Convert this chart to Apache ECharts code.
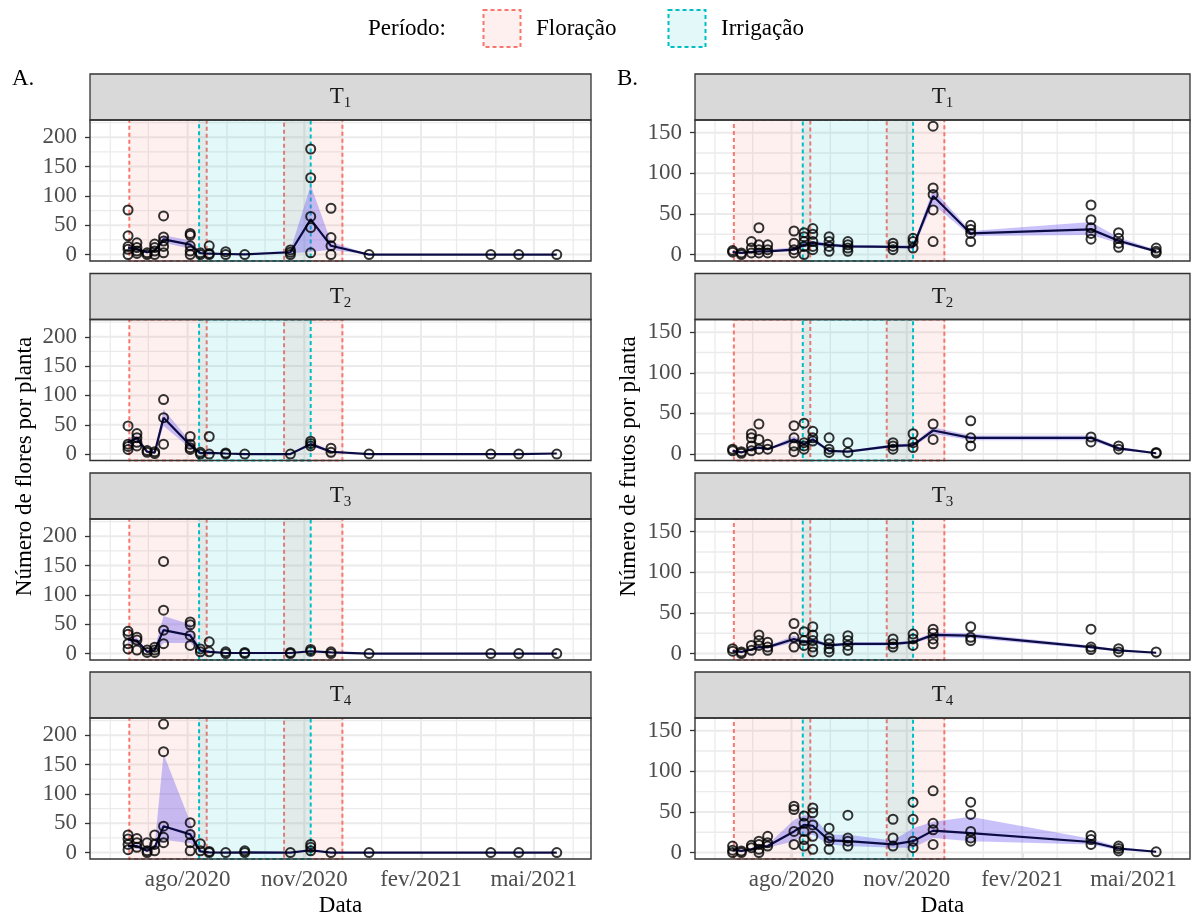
<!DOCTYPE html>
<html><head><meta charset="utf-8">
<script src="https://cdn.jsdelivr.net/npm/echarts@6.0.0/dist/echarts.min.js"></script>
<style>html,body{margin:0;padding:0;background:#fff}#c{width:1194px;height:916px}</style>
</head><body><div id="c"></div><script>
// ---------------- DATA ----------------
const dates = ['2020-06-15','2020-06-22','2020-06-30','2020-07-06','2020-07-13','2020-08-03','2020-08-11','2020-08-18','2020-08-31','2020-09-15','2020-10-21','2020-11-06','2020-11-22','2020-12-22','2021-03-28','2021-04-19','2021-05-19'];
const monthAbbr = ['jan','fev','mar','abr','mai','jun','jul','ago','set','out','nov','dez'];
const xTickDates = ['2020-08-01','2020-11-01','2021-02-01','2021-05-01'];
const xMinorDates = ['2020-06-01','2020-07-01','2020-09-01','2020-10-01','2020-12-01','2021-01-01','2021-03-01','2021-04-01','2021-06-01'];
const xRange = ['2020-05-16','2021-06-15'];
const floracao = [['2020-06-16','2020-08-16'],['2020-10-16','2020-12-01']];
const irrigacao = [['2020-08-10','2020-11-06']];
const flowerTicks = [0,50,100,150,200];
const flowerMinor = [25,75,125,175,225];
const flowerRange = [-10.9, 229.4];
const fruitTicks = [0,50,100,150];
const fruitMinor = [25,75,125];
const fruitRange = [-7.9, 165.6];
const treatments = ['1','2','3','4'];

// Flowers (A)
const flPtsT1 = [[76,32,14,9,0],[20,12,6,2],[3,0],[18,12,6,0],[66,30,23,14,3],[36,33,15,6,0],[3,0],[15,2,0],[5,0],[0],[8,4,0],[180,131,65,46,3],[79,29,15,0],[0],[0],[0],[0]];
const flMeanT1 = [12,9,4,6.5,26,17,2.5,1.5,1,0.5,4,60,15,0,0,0,0];
const flLoT1 = [8,6,2,4,20,10,1,0,0,0,2,5,8,0,0,0,0];
const flHiT1 = [16,12,6,9,33,24,4,3,2,1,7,118,22,0,0,0,0];

const flPtsT2 = [[48,17,13,8],[35,28,20,14],[6,3],[4,1],[93,62,17],[30,17,11,8],[3,0],[30,0],[2,0],[0],[0],[22,18,14],[10,3],[0],[0],[0],[0]];
const flMeanT2 = [20,27,4,2.5,62,15,1.5,2,1,0,0,17,4,0,0,0,1];
const flLoT2 = [14,22,2,1,48,10,0,0,0,0,0,14,2,0,0,0,0];
const flHiT2 = [26,32,6,4,76,22,3,5,2,0,0,21,6,0,0,0,2];

const flPtsT3 = [[38,33,17,8],[28,23,6],[6,2],[11,6,2],[157,74,40,17],[54,49,31,14],[8,3],[20,3],[3,0],[2,0],[2,0],[7,4],[3,0],[0],[0],[0],[0]];
const flMeanT3 = [24,22,3,6,40,31,5,3,1,1,1,4,2,0,0,0,0];
const flLoT3 = [18,17,1,3,18,18,3,1,0,0,0,3,1,0,0,0,0];
const flHiT3 = [30,27,5,9,64,50,7,6,2,2,2,6,3,0,0,0,0];

const flPtsT4 = [[30,23,14,5],[24,17,9],[17,3,0],[30,14,3],[219,172,45,26,17],[51,31,17,3],[15,3],[2,0],[0],[3,0],[0],[14,9,3],[0],[0],[0],[0],[0]];
const flMeanT4 = [11,11,3,9,45,31,2,0.5,0,0.5,0,4,0,0,0,0,0];
const flLoT4 = [7,7,1,5,22,16,1,0,0,0,0,2,0,0,0,0,0];
const flHiT4 = [15,15,6,13,168,52,4,1,0,1,0,7,0,0,0,0,0];

// Fruits (B)
const frPtsT1 = [[5,3],[2,0],[16,8,2],[33,12,6,2],[12,6,2],[29,14,6,2],[27,22,16,10,0],[32,25,16,10,6],[22,16,10,4],[16,12,8,4],[14,10,6],[20,16,8],[158,82,74,55,16],[36,31,26,16],[61,43,33,26,19],[27,20,14,9],[8,4,2]];
const frMeanT1 = [3,2,3,4,4,6,12,14,12,10,9.5,9,72,26,31,17,4];
const frLoT1 = [2,1,2,3,3,4,9,11,10,8,8,7,62,23,24,14,3];
const frHiT1 = [4,3,5,6,6,9,16,17,14,12,11,12,80,29,40,21,6];

const frPtsT2 = [[6,4],[3,1],[25,20,10,4],[37,18,6],[12,6],[35,20,10,3],[38,14,10,6],[28,20,16],[20,6,2],[14,2],[14,10,6],[25,14,8],[37,18],[41,20,10],[21,15],[10,6],[2,1]];
const frMeanT2 = [4,2,6,8,6,18,12,18,4,3,10,11,29,20,20,7,1];
const frLoT2 = [3,1,4,6,5,14,10,15,3,2,8,9,25,17,17,5,0];
const frHiT2 = [5,3,8,10,7,22,14,21,5,4,12,13,33,23,23,9,2];

const frPtsT3 = [[6,3],[2,0],[10,4],[23,16,10],[14,8,4],[37,20,8],[27,16,10],[33,23,16,8,2],[18,12,6,2],[22,16,10,4],[18,12,8],[24,18,10],[30,25,18,12],[33,20,16],[30,8,5],[6,2],[2]];
const frMeanT3 = [3,2,5,8,8,18,14,16,10,12,12,14,23,22,8,4,1];
const frLoT3 = [2,1,4,6,6,14,12,13,8,10,10,12,20,19,6,3,0];
const frHiT3 = [4,3,6,10,10,22,16,19,12,14,14,16,26,25,10,5,2];

const frPtsT4 = [[8,3,0],[2,0],[9,6],[14,10,4,0],[20,12,8],[57,53,26,10],[45,36,26,16,8],[55,49,34,20,4],[30,18,14,4],[46,18,14,8],[41,18,8],[62,41,14,6],[76,36,28,10],[62,47,26,18,14],[21,16,10],[8,5,2],[1]];
const frMeanT4 = [3,2,4,7,8,26,34,33,15,14,10,14,27,24,13,5,1];
const frLoT4 = [2,1,3,5,6,14,22,22,10,8,6,6,18,14,10,3,0];
const frHiT4 = [4,3,5,9,10,40,46,45,22,22,15,30,38,44,17,7,2];

// ---------------- LAYOUT ----------------
const FONT = '"Liberation Serif", "Times New Roman", serif';
const cols = [{left: 90, width: 501}, {left: 695, width: 495}];
const rowTops = [120, 319.5, 519, 718];
const plotH = 141;
const stripH = 46;

const ts = s => { const p = s.split('-').map(Number); return Date.UTC(p[0], p[1]-1, p[2]); };

const panels = [
  {col:0,row:0,pts:flPtsT1,mean:flMeanT1,lo:flLoT1,hi:flHiT1},
  {col:0,row:1,pts:flPtsT2,mean:flMeanT2,lo:flLoT2,hi:flHiT2},
  {col:0,row:2,pts:flPtsT3,mean:flMeanT3,lo:flLoT3,hi:flHiT3},
  {col:0,row:3,pts:flPtsT4,mean:flMeanT4,lo:flLoT4,hi:flHiT4},
  {col:1,row:0,pts:frPtsT1,mean:frMeanT1,lo:frLoT1,hi:frHiT1},
  {col:1,row:1,pts:frPtsT2,mean:frMeanT2,lo:frLoT2,hi:frHiT2},
  {col:1,row:2,pts:frPtsT3,mean:frMeanT3,lo:frLoT3,hi:frHiT3},
  {col:1,row:3,pts:frPtsT4,mean:frMeanT4,lo:frLoT4,hi:frHiT4}
];

const grids = [], xAxes = [], yAxes = [], series = [], graphics = [];
const xr = [ts(xRange[0]), ts(xRange[1])];

panels.forEach((p, i) => {
  const c = cols[p.col];
  const top = rowTops[p.row];
  const yr = p.col === 0 ? flowerRange : fruitRange;
  const yt = p.col === 0 ? flowerTicks : fruitTicks;
  const ym = p.col === 0 ? flowerMinor : fruitMinor;
  const bottom = p.row === 3;
  grids.push({left: c.left, top: top, width: c.width, height: plotH, show: false, containLabel: false});
  xAxes.push({
    type: 'value', gridIndex: i, min: xr[0], max: xr[1], scale: true,
    axisLine: {show: false}, splitLine: {show: false}, minorSplitLine: {show: false},
    axisTick: {show: bottom, customValues: xTickDates.map(ts), length: 5, lineStyle: {color: '#333333', width: 1.3}},
    axisLabel: {show: bottom, customValues: xTickDates.map(ts), margin: 9, showMinLabel: true, showMaxLabel: true,
      formatter: v => { const d = new Date(v); return monthAbbr[d.getUTCMonth()] + '/' + d.getUTCFullYear(); },
      color: '#4D4D4D', fontFamily: FONT, fontSize: 23}
  });
  yAxes.push({
    type: 'value', gridIndex: i, min: yr[0], max: yr[1],
    axisLine: {show: false}, splitLine: {show: false},
    axisTick: {show: true, customValues: yt, length: 5, lineStyle: {color: '#333333', width: 1.3}},
    axisLabel: {customValues: yt, margin: 13, color: '#4D4D4D', fontFamily: FONT, fontSize: 23}
  });
  // gridlines
  series.push({
    type: 'custom', xAxisIndex: i, yAxisIndex: i, z: 1, silent: true, animation: false,
    data: [[xr[0], 0]],
    renderItem: (params, api) => {
      const ch = [];
      const vline = (t, w) => { const a = api.coord([t, yr[0]]), b = api.coord([t, yr[1]]);
        ch.push({type: 'line', shape: {x1: a[0], y1: a[1], x2: b[0], y2: b[1]}, style: {stroke: '#EBEBEB', lineWidth: w}}); };
      const hline = (v, w) => { const a = api.coord([xr[0], v]), b = api.coord([xr[1], v]);
        ch.push({type: 'line', shape: {x1: a[0], y1: a[1], x2: b[0], y2: b[1]}, style: {stroke: '#EBEBEB', lineWidth: w}}); };
      xMinorDates.forEach(d => vline(ts(d), 1.3));
      ym.forEach(v => { if (v < yr[1]) hline(v, 1.3); });
      xTickDates.forEach(d => vline(ts(d), 2));
      yt.forEach(v => hline(v, 2));
      return {type: 'group', children: ch};
    }
  });
  // periods
  series.push({
    type: 'custom', xAxisIndex: i, yAxisIndex: i, z: 2, silent: true, animation: false,
    data: [[xr[0], 0]],
    renderItem: (params, api) => {
      const ch = [];
      const rect = (a, b, fill, stroke) => {
        const p1 = api.coord([ts(a), yr[1]]), p2 = api.coord([ts(b), yr[0]]);
        ch.push({type: 'rect', shape: {x: p1[0], y: p1[1], width: p2[0]-p1[0], height: p2[1]-p1[1]},
          style: {fill: fill, stroke: stroke, lineWidth: 2, lineDash: [4, 3]}});
      };
      floracao.forEach(r => rect(r[0], r[1], 'rgba(248,118,109,0.11)', '#F8766D'));
      irrigacao.forEach(r => rect(r[0], r[1], 'rgba(0,191,196,0.11)', '#00BFC4'));
      return {type: 'group', children: ch};
    }
  });
  // ribbon
  series.push({
    type: 'custom', xAxisIndex: i, yAxisIndex: i, z: 3, silent: true, animation: false,
    data: [[xr[0], 0]],
    renderItem: (params, api) => {
      const pts = [];
      dates.forEach((d, k) => pts.push(api.coord([ts(d), p.hi[k]])));
      for (let k = dates.length - 1; k >= 0; k--) pts.push(api.coord([ts(dates[k]), p.lo[k]]));
      return {type: 'polygon', shape: {points: pts}, style: {fill: 'rgba(105,85,240,0.36)'}};
    }
  });
  // mean line
  series.push({
    type: 'line', xAxisIndex: i, yAxisIndex: i, z: 4, silent: true, animation: false,
    symbol: 'none', data: dates.map((d, k) => [ts(d), p.mean[k]]),
    lineStyle: {color: '#0C0C44', width: 2.2}
  });
  // points
  const sp = [];
  p.pts.forEach((arr, k) => arr.forEach(v => sp.push([ts(dates[k]), v])));
  series.push({
    type: 'scatter', xAxisIndex: i, yAxisIndex: i, z: 5, silent: true, animation: false,
    symbol: 'circle', symbolSize: 9, data: sp,
    itemStyle: {color: 'rgba(0,0,0,0)', borderColor: '#000000', borderWidth: 2}
  });
  // strip + border
  graphics.push({type: 'rect', shape: {x: c.left, y: top - stripH, width: c.width, height: stripH},
    style: {fill: '#D9D9D9', stroke: '#333333', lineWidth: 1.3}, z: 50});
  graphics.push({type: 'text', x: c.left + c.width/2, y: top - stripH/2, z: 51,
    style: {text: '{t|T}{s|' + treatments[p.row] + '}', align: 'center', verticalAlign: 'middle',
      textAlign: 'center', textVerticalAlign: 'middle', fill: '#1A1A1A',
      rich: {t: {fontSize: 23, fontFamily: FONT, lineHeight: 28, fill: '#1A1A1A'},
             s: {fontSize: 15, fontFamily: FONT, lineHeight: 16, verticalAlign: 'bottom', fill: '#1A1A1A'}}}});
  graphics.push({type: 'rect', shape: {x: c.left, y: top, width: c.width, height: plotH},
    style: {fill: 'none', stroke: '#333333', lineWidth: 1.4}, z: 100});
});

function txt(s, x, y, opts) {
  return {type: 'text', x: x, y: y, z: 60,
    style: Object.assign({text: s, fontSize: 23, fontFamily: FONT, fill: '#000000',
      align: 'left', verticalAlign: 'middle', textAlign: 'left', textVerticalAlign: 'middle'}, opts || {})};
}
// legend
graphics.push(txt('Período:', 368, 29));
graphics.push({type: 'rect', shape: {x: 483.5, y: 10, width: 37, height: 37}, z: 60,
  style: {fill: 'rgba(248,118,109,0.11)', stroke: '#F8766D', lineWidth: 2, lineDash: [4, 3]}});
graphics.push(txt('Floração', 536, 29));
graphics.push({type: 'rect', shape: {x: 668.5, y: 10, width: 37, height: 37}, z: 60,
  style: {fill: 'rgba(0,191,196,0.11)', stroke: '#00BFC4', lineWidth: 2, lineDash: [4, 3]}});
graphics.push(txt('Irrigação', 721, 29));
// panel tags
graphics.push(txt('A.', 12, 79));
graphics.push(txt('B.', 617, 79));
// axis titles
graphics.push(txt('Data', cols[0].left + cols[0].width/2, 906, {align: 'center', textAlign: 'center'}));
graphics.push(txt('Data', cols[1].left + cols[1].width/2, 906, {align: 'center', textAlign: 'center'}));
const yTitleY = (rowTops[0] - stripH + rowTops[3] + plotH) / 2;
const yt1 = txt('Número de flores por planta', 0, 0, {align: 'center', textAlign: 'center'});
yt1.x = 25; yt1.y = yTitleY; yt1.rotation = Math.PI / 2;
graphics.push(yt1);
const yt2 = txt('Número de frutos por planta', 0, 0, {align: 'center', textAlign: 'center'});
yt2.x = 629; yt2.y = yTitleY; yt2.rotation = Math.PI / 2;
graphics.push(yt2);

const chart = echarts.init(document.getElementById('c'), null, {renderer: 'canvas'});
chart.setOption({
  animation: false,
  backgroundColor: '#FFFFFF',
  grid: grids, xAxis: xAxes, yAxis: yAxes, series: series,
  graphic: {elements: graphics}
});
</script></body></html>
